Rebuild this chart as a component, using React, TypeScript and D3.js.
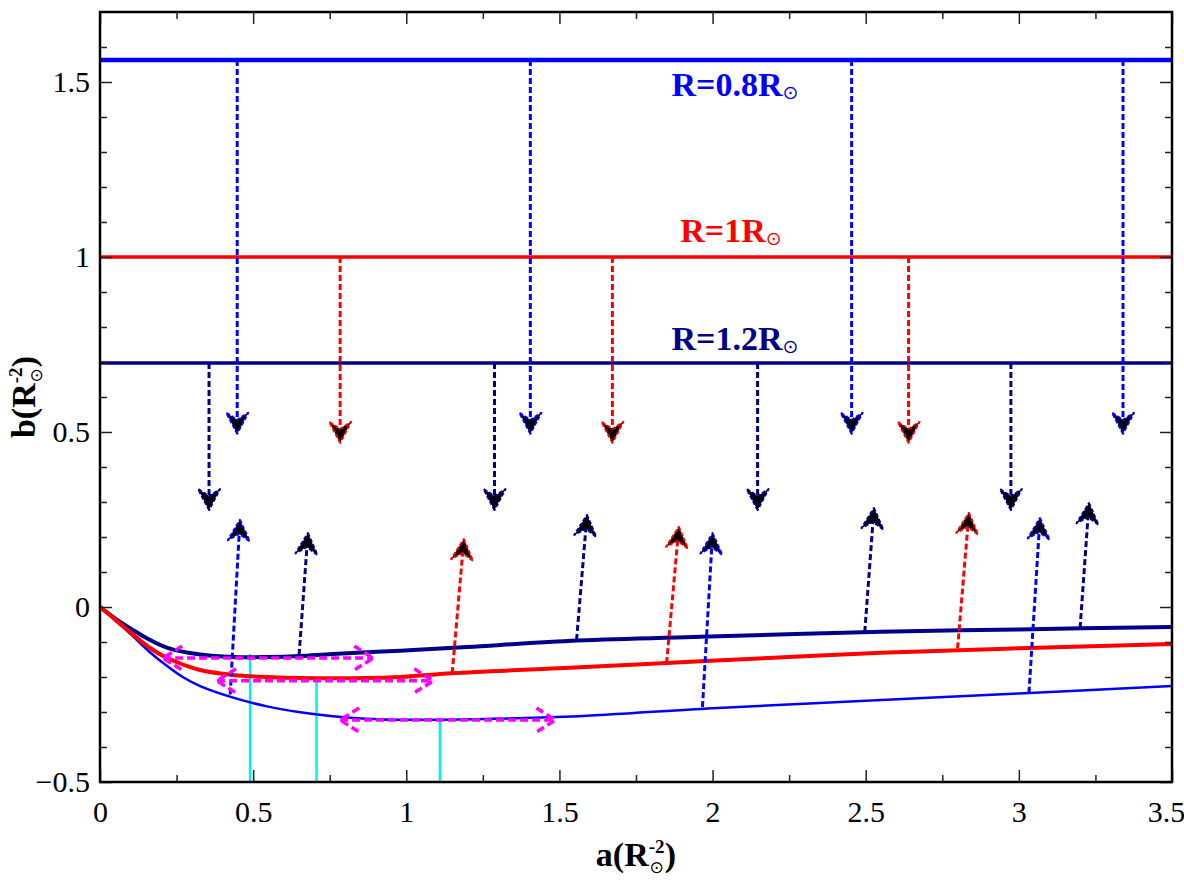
import { useEffect, useRef } from 'react';
import * as d3 from 'd3';

// Axis ticks
const xTicks = [0, 0.5, 1, 1.5, 2, 2.5, 3, 3.5];
const xMinor = [0.25, 0.75, 1.25, 1.75, 2.25, 2.75, 3.25];
const yTicks = [-0.5, 0, 0.5, 1, 1.5];
const yMinor = [-0.4, -0.3, -0.2, -0.1, 0.1, 0.2, 0.3, 0.4, 0.6, 0.7, 0.8, 0.9, 1.1, 1.2, 1.3, 1.4, 1.6];

// Series: R = 0.8, 1, 1.2 (solar radii)
const radiusLabels = ['0.8', '1', '1.2'];
const colors = ['#0000ff', '#ff0000', '#00008b'];
const levelB = [1.563, 1.0, 0.697]; // horizontal lines b = 1/R^2

// Curves b(a) for each radius
const curveA08 = [0, 0.05, 0.108, 0.16, 0.218, 0.27, 0.327, 0.435, 0.545, 0.654, 0.76, 0.87, 0.98, 1.11, 1.54, 2.0, 2.5, 3.0, 3.5];
const curveB08 = [0, -0.038, -0.084, -0.127, -0.168, -0.2, -0.226, -0.259, -0.284, -0.301, -0.312, -0.319, -0.322, -0.322, -0.313, -0.289, -0.268, -0.247, -0.226];
const curveA10 = [0, 0.05, 0.108, 0.16, 0.218, 0.327, 0.435, 0.545, 0.654, 0.87, 0.98, 1.15, 1.5, 1.85, 2.2, 2.55, 3.0, 3.5];
const curveB10 = [0, -0.036, -0.079, -0.115, -0.145, -0.18, -0.194, -0.2, -0.203, -0.203, -0.2, -0.189, -0.175, -0.16, -0.145, -0.131, -0.118, -0.106];
const curveA12 = [0, 0.05, 0.108, 0.15, 0.218, 0.327, 0.435, 0.545, 0.654, 0.76, 0.98, 1.2, 1.56, 1.96, 2.55, 3.0, 3.5];
const curveB12 = [0, -0.033, -0.066, -0.088, -0.116, -0.136, -0.143, -0.143, -0.14, -0.134, -0.125, -0.114, -0.096, -0.085, -0.071, -0.064, -0.057];

// Downward arrows from the horizontal lines
const dropA08 = [0.448, 1.405, 2.454, 3.34];
const dropA10 = [0.784, 1.673, 2.64];
const dropA12 = [0.356, 1.288, 2.147, 2.974];
const dropTipB = [0.495, 0.469, 0.277];

// Upward arrows from the curves
const riseFromA08 = [0.425, 1.967, 3.033];
const riseFromB08 = [-0.25, -0.286, -0.245];
const riseToA08 = [0.457, 2.0, 3.069];
const riseToB08 = [0.249, 0.211, 0.254];
const riseFromA10 = [1.15, 1.85, 2.8];
const riseFromB10 = [-0.189, -0.16, -0.118];
const riseToA10 = [1.188, 1.89, 2.837];
const riseToB10 = [0.194, 0.229, 0.269];
const riseFromA12 = [0.65, 1.556, 2.497, 3.2];
const riseFromB12 = [-0.137, -0.094, -0.071, -0.06];
const riseToA12 = [0.679, 1.59, 2.527, 3.229];
const riseToB12 = [0.211, 0.263, 0.283, 0.297];

// Magenta double arrows and cyan markers at the minima
const magFromA = [0.784, 0.382, 0.206];
const magToA = [1.487, 1.088, 0.892];
const magB = [-0.323, -0.211, -0.146];
const cyanA = [1.11, 0.707, 0.49];
const cyanTopB = [-0.318, -0.2, -0.135];

// Label anchors (data units)
const labelA = [2.073, 2.06, 2.073];
const labelB = [1.46, 1.043, 0.734];

const serif = '"Liberation Serif", "DejaVu Serif", "Times New Roman", Times, serif';
const sun = '"DejaVu Sans", sans-serif';

export default function App() {
  const svgRef = useRef<SVGSVGElement | null>(null);

  useEffect(() => {
    if (!svgRef.current) return;
    const svg = d3.select(svgRef.current);
    svg.selectAll('*').remove();

    const x = d3.scaleLinear().domain([0, 3.5]).range([100, 1172]);
    const y = d3.scaleLinear().domain([-0.5, 1.7]).range([782, 12]);
    const [x0, x1] = x.range();
    const [y0, y1] = y.range();

    svg.append('defs').append('clipPath').attr('id', 'plot-clip')
      .append('rect').attr('x', x0).attr('y', y1).attr('width', x1 - x0).attr('height', y0 - y1);

    const plot = svg.append('g').attr('clip-path', 'url(#plot-clip)');

    // horizontal lines b = 1/R^2
    const lineW = [4.5, 3.5, 3.5];
    levelB.forEach((b, i) => {
      plot.append('line')
        .attr('x1', x0).attr('x2', x1)
        .attr('y1', y(b)).attr('y2', y(b))
        .attr('stroke', colors[i]).attr('stroke-width', lineW[i]);
    });

    // cyan markers
    cyanA.forEach((a, i) => {
      plot.append('line')
        .attr('x1', x(a)).attr('x2', x(a))
        .attr('y1', y(cyanTopB[i])).attr('y2', y0)
        .attr('stroke', '#00f0f0').attr('stroke-width', 2.5);
    });

    // curves
    const curveA = [curveA08, curveA10, curveA12];
    const curveB = [curveB08, curveB10, curveB12];
    const curveW = [2.5, 4, 4];
    const line = d3.line<[number, number]>()
      .x(d => x(d[0])).y(d => y(d[1]))
      .curve(d3.curveCatmullRom.alpha(0.5));
    [0, 2, 1].forEach(i => {
      const pts = curveA[i].map((a, k) => [a, curveB[i][k]] as [number, number]);
      plot.append('path').attr('d', line(pts)!)
        .attr('fill', 'none').attr('stroke', colors[i]).attr('stroke-width', curveW[i]);
    });

    // dashed arrows with dart heads (tip, wings, shallow notch at the back)
    const L = 21, HW = 11, N = 14;
    const arrow = (fx: number, fy: number, tx: number, ty: number, color: string) => {
      const len = Math.hypot(tx - fx, ty - fy);
      const ux = (tx - fx) / len, uy = (ty - fy) / len;
      const px = -uy, py = ux;
      plot.append('line')
        .attr('x1', fx).attr('y1', fy)
        .attr('x2', tx - N * ux).attr('y2', ty - N * uy)
        .attr('stroke', color).attr('stroke-width', 3)
        .attr('stroke-dasharray', '6,3');
      const d = `M${tx},${ty}L${tx - L * ux + HW * px},${ty - L * uy + HW * py}`
        + `L${tx - N * ux},${ty - N * uy}L${tx - L * ux - HW * px},${ty - L * uy - HW * py}Z`;
      plot.append('path').attr('d', d)
        .attr('fill', '#000').attr('stroke', color).attr('stroke-width', 2)
        .attr('stroke-dasharray', '4,2').attr('stroke-linejoin', 'round');
    };

    const dropA = [dropA08, dropA10, dropA12];
    dropA.forEach((arr, i) => {
      arr.forEach(a => arrow(x(a), y(levelB[i]), x(a), y(dropTipB[i]), colors[i]));
    });

    const riseFromA = [riseFromA08, riseFromA10, riseFromA12];
    const riseFromB = [riseFromB08, riseFromB10, riseFromB12];
    const riseToA = [riseToA08, riseToA10, riseToA12];
    const riseToB = [riseToB08, riseToB10, riseToB12];
    riseFromA.forEach((arr, i) => {
      arr.forEach((a, k) => arrow(x(a), y(riseFromB[i][k]), x(riseToA[i][k]), y(riseToB[i][k]), colors[i]));
    });

    // magenta double-headed arrows
    magB.forEach((b, i) => {
      const xa = x(magFromA[i]), xb = x(magToA[i]), yy = y(b);
      const g = plot.append('g').attr('stroke', '#ff00ff').attr('stroke-width', 3.5)
        .attr('fill', 'none').attr('stroke-dasharray', '8,4');
      g.append('line').attr('x1', xa).attr('x2', xb).attr('y1', yy).attr('y2', yy);
      g.append('path').attr('d', `M${xa + 19},${yy - 12}L${xa},${yy}L${xa + 19},${yy + 12}`);
      g.append('path').attr('d', `M${xb - 19},${yy - 12}L${xb},${yy}L${xb - 19},${yy + 12}`);
    });

    // series labels
    radiusLabels.forEach((r, i) => {
      const t = svg.append('text')
        .attr('x', x(labelA[i])).attr('y', y(labelB[i]))
        .attr('text-anchor', 'middle')
        .style('font-family', serif).attr('font-weight', 'bold')
        .attr('font-size', 34).attr('fill', colors[i]);
      t.append('tspan').text(`R=${r}R`);
      t.append('tspan').style('font-family', sun).attr('font-weight', 'normal')
        .attr('font-size', 19).attr('dy', 3).text('\u2299');
    });

    // axes
    const fmt = d3.format('');
    const styleAxis = (g: d3.Selection<SVGGElement, unknown, null, undefined>) => {
      g.select('.domain').remove();
      g.attr('font-family', null).attr('font-size', null);
      g.selectAll('line').attr('stroke', '#222').attr('stroke-width', 1.5);
      g.selectAll('text').style('font-family', serif).attr('font-size', 30).attr('fill', '#000');
    };
    const major = 12, minor = 7;
    const bottomG = svg.append('g').attr('transform', `translate(0,${y0})`);
    bottomG.call(d3.axisBottom(x).tickValues(xTicks).tickSizeInner(-major).tickSizeOuter(0).tickPadding(19).tickFormat(d => fmt(d as number)));
    styleAxis(bottomG);
    bottomG.selectAll<SVGTextElement, number>('text').filter(d => d === 3.5).attr('dx', -6);
    const bottomMinor = svg.append('g').attr('transform', `translate(0,${y0})`);
    bottomMinor.call(d3.axisBottom(x).tickValues(xMinor).tickSizeInner(-minor).tickSizeOuter(0).tickFormat(() => ''));
    styleAxis(bottomMinor);

    const topG = svg.append('g').attr('transform', `translate(0,${y1})`);
    topG.call(d3.axisTop(x).tickValues(xTicks).tickSizeInner(-major).tickSizeOuter(0).tickFormat(() => ''));
    styleAxis(topG);
    const topMinor = svg.append('g').attr('transform', `translate(0,${y1})`);
    topMinor.call(d3.axisTop(x).tickValues(xMinor).tickSizeInner(-minor).tickSizeOuter(0).tickFormat(() => ''));
    styleAxis(topMinor);

    const leftG = svg.append('g').attr('transform', `translate(${x0},0)`);
    leftG.call(d3.axisLeft(y).tickValues(yTicks).tickSizeInner(-major).tickSizeOuter(0).tickPadding(10).tickFormat(d => fmt(d as number)));
    styleAxis(leftG);
    const leftMinor = svg.append('g').attr('transform', `translate(${x0},0)`);
    leftMinor.call(d3.axisLeft(y).tickValues(yMinor).tickSizeInner(-minor).tickSizeOuter(0).tickFormat(() => ''));
    styleAxis(leftMinor);

    const rightG = svg.append('g').attr('transform', `translate(${x1},0)`);
    rightG.call(d3.axisRight(y).tickValues(yTicks).tickSizeInner(-major).tickSizeOuter(0).tickFormat(() => ''));
    styleAxis(rightG);
    const rightMinor = svg.append('g').attr('transform', `translate(${x1},0)`);
    rightMinor.call(d3.axisRight(y).tickValues(yMinor).tickSizeInner(-minor).tickSizeOuter(0).tickFormat(() => ''));
    styleAxis(rightMinor);

    // frame
    svg.append('rect')
      .attr('x', x0).attr('y', y1).attr('width', x1 - x0).attr('height', y0 - y1)
      .attr('fill', 'none').attr('stroke', '#000').attr('stroke-width', 2.5);

    // axis titles: a(R_sun^-2), b(R_sun^-2)
    const title = (g: d3.Selection<SVGTextElement, unknown, null, undefined>, head: string) => {
      g.style('font-family', serif).attr('font-weight', 'bold').attr('font-size', 34).attr('fill', '#000');
      g.append('tspan').text(`${head}(R`);
      g.append('tspan').attr('font-size', 19).attr('dy', -13).text('-2');
      g.append('tspan').style('font-family', sun).attr('font-weight', 'normal')
        .attr('font-size', 17).attr('dx', -15).attr('dy', 20).text('\u2299');
      g.append('tspan').attr('dx', 1).attr('dy', -7).text(')');
    };
    title(svg.append('text').attr('x', (x0 + x1) / 2).attr('y', 866).attr('text-anchor', 'middle'), 'a');
    title(svg.append('text').attr('text-anchor', 'middle')
      .attr('transform', `translate(35,${(y0 + y1) / 2}) rotate(-90)`), 'b');
  }, []);

  return (
    <svg
      ref={svgRef}
      width={1184}
      height={884}
      style={{ position: 'absolute', left: 0, top: 0, background: '#fff' }}
    />
  );
}
